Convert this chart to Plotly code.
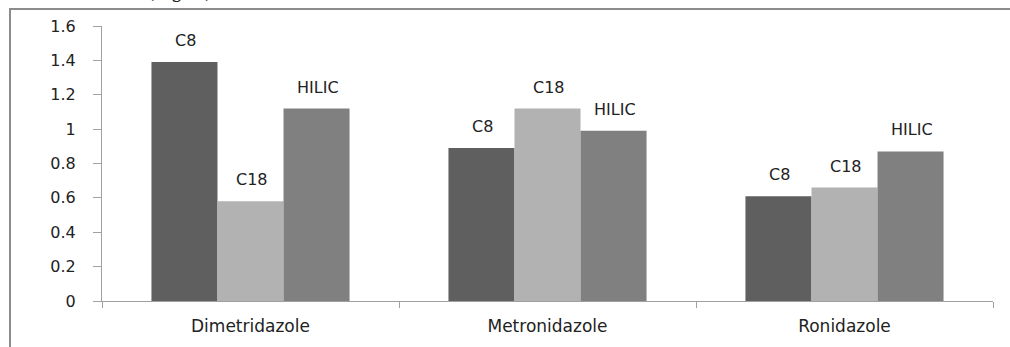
import plotly.graph_objects as go

categories = ["Dimetridazole", "Metronidazole", "Ronidazole"]
series_names = ["C8", "C18", "HILIC"]
c8_values = [1.39, 0.89, 0.61]
c18_values = [0.58, 1.12, 0.66]
hilic_values = [1.12, 0.99, 0.87]
y_ticks = [0, 0.2, 0.4, 0.6, 0.8, 1, 1.2, 1.4, 1.6]
y_tick_labels = ["0", "0.2", "0.4", "0.6", "0.8", "1", "1.2", "1.4", "1.6"]

colors = ["#5f5f5f", "#b2b2b2", "#808080"]
values = [c8_values, c18_values, hilic_values]

W, H = 1010, 347
L, R, T, B = 102, 17, 26, 46
pw, ph = W - L - R, H - T - B
BARGAP = 0.333
bar_px = pw / len(categories) * (1 - BARGAP) / len(series_names)

fig = go.Figure()
annotations = []
for i, (name, vals, col) in enumerate(zip(series_names, values, colors)):
    fig.add_trace(go.Bar(
        x=categories, y=vals, name=name,
        marker=dict(color=col, line=dict(width=0)),
    ))
    for cat, v in zip(categories, vals):
        annotations.append(dict(
            x=cat, y=v, xref="x", yref="y", text=name, showarrow=False,
            xanchor="center", yanchor="bottom",
            xshift=(i - 1) * bar_px + 1, yshift=10,
            font=dict(family="DejaVu Sans", size=16, color="#222"),
        ))


def px(x):
    return (x - L) / pw


def py(y):
    return (H - B - y) / ph


annotations.append(dict(
    text="(right)", xref="paper", yref="paper",
    x=px(179), y=py(5), xanchor="center", yanchor="bottom",
    showarrow=False,
    font=dict(family="DejaVu Serif", size=20, color="#222"),
))

fig.update_layout(
    width=W, height=H,
    margin=dict(l=L, r=R, t=T, b=B),
    paper_bgcolor="white", plot_bgcolor="white",
    barmode="group", bargap=BARGAP, bargroupgap=0,
    showlegend=False,
    xaxis=dict(
        showline=True, linecolor="#a0a0a0", linewidth=1,
        ticks="outside", tickson="boundaries", ticklen=6, tickcolor="#a0a0a0",
        tickfont=dict(family="DejaVu Sans", size=17, color="#222"),
        ticklabelstandoff=10,
        showgrid=False,
    ),
    yaxis=dict(
        range=[0, 1.6], tickvals=y_ticks, ticktext=y_tick_labels,
        showline=True, linecolor="#a0a0a0", linewidth=1,
        ticks="outside", ticklen=8, tickcolor="#a0a0a0",
        tickfont=dict(family="DejaVu Sans", size=16, color="#222"),
        ticklabelstandoff=14,
        showgrid=False, zeroline=False,
    ),
    shapes=[
        dict(type="line", xref="paper", yref="paper",
             x0=px(10), x1=px(10), y0=py(8), y1=py(H + 5),
             line=dict(color="#8c8c8c", width=2)),
        dict(type="line", xref="paper", yref="paper",
             x0=px(9), x1=px(W + 5), y0=py(9), y1=py(9),
             line=dict(color="#8c8c8c", width=2)),
    ],
    annotations=annotations,
)

fig.write_html("out.html", config={"displayModeBar": False},
               post_script="document.body.style.margin='0px';")
